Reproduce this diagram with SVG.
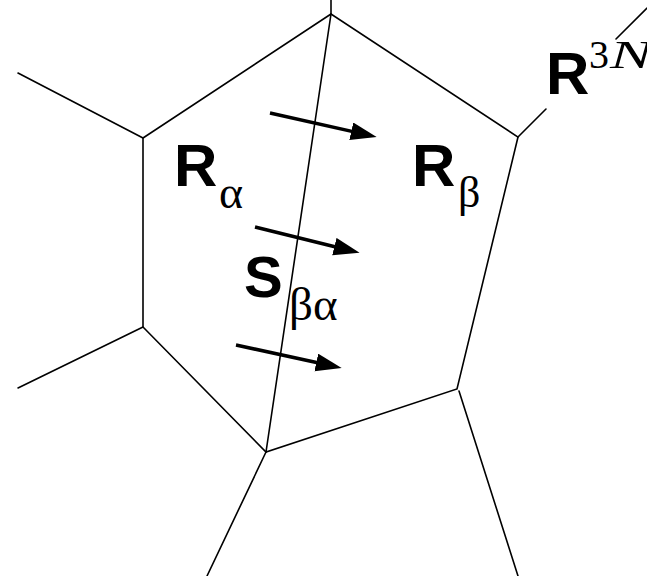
<svg xmlns="http://www.w3.org/2000/svg" width="647" height="576" viewBox="0 0 647 576">
<style>
.edge{stroke:#000;stroke-width:1.6;fill:none;stroke-linecap:round}
.arrow{stroke:#000;stroke-width:3.5;fill:none}
.bold{font-family:"Liberation Sans",Arial,sans-serif;font-weight:bold;fill:#000}
.greek{font-family:"Liberation Serif","DejaVu Serif",serif;fill:#000}
.ital{font-family:"Liberation Serif","DejaVu Serif",serif;font-style:italic;fill:#000}
</style>
<defs>
<marker id="ah" markerUnits="userSpaceOnUse" markerWidth="28" markerHeight="20" refX="12" refY="9" orient="auto">
<path d="M0,0 L26,9 L0,18 z" fill="#000"/>
</marker>
</defs>
<rect width="647" height="576" fill="#fff"/>
<g id="connectors">
<polygon class="edge" points="331,14 143,138 143,327 266,452 457,389 518,137"/>
<line class="edge" x1="331" y1="14" x2="266" y2="452"/>
<line class="edge" x1="331" y1="14" x2="331" y2="0"/>
<line class="edge" x1="143" y1="138" x2="18" y2="73"/>
<line class="edge" x1="143" y1="327" x2="18" y2="388"/>
<line class="edge" x1="266" y1="452" x2="207" y2="576"/>
<line class="edge" x1="459" y1="391" x2="518" y2="576"/>
<line class="edge" x1="518" y1="137" x2="546" y2="109"/>
<line class="edge" x1="616" y1="39" x2="647" y2="8"/>
</g>
<g id="flux">
<line class="arrow" x1="270" y1="113" x2="363" y2="133.9" marker-end="url(#ah)"/>
<line class="arrow" x1="255" y1="227" x2="346" y2="249.5" marker-end="url(#ah)"/>
<line class="arrow" x1="236" y1="345" x2="328" y2="365" marker-end="url(#ah)"/>
</g>
<g id="R-alpha">
<text class="bold" x="174" y="186" font-size="60">R</text>
<text class="greek" x="219" y="208" font-size="46">α</text>
</g>
<g id="R-beta">
<text class="bold" x="412" y="186" font-size="60">R</text>
<text class="greek" x="458" y="207" font-size="44">β</text>
</g>
<g id="S-beta-alpha">
<text class="bold" x="244" y="297" font-size="58">S</text>
<text class="greek" x="289" y="320" font-size="47">βα</text>
</g>
<g id="R-3N">
<text class="bold" x="546" y="94" font-size="60">R</text>
<text y="68" font-size="40"><tspan class="greek" x="589">3</tspan><tspan class="ital" x="610" textLength="42" lengthAdjust="spacingAndGlyphs">N</tspan></text>
</g>
</svg>
